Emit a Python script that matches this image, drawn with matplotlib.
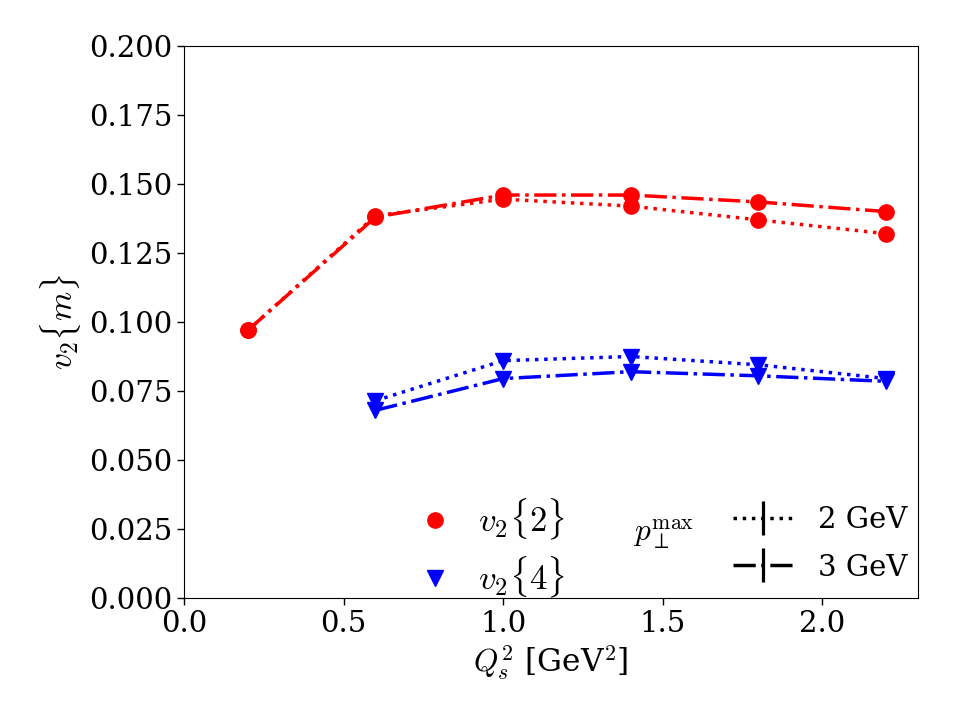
import matplotlib
matplotlib.use("Agg")
import matplotlib.pyplot as plt
from matplotlib.lines import Line2D

plt.rcParams['font.family'] = ['DejaVu Serif']
plt.rcParams['mathtext.fontset'] = 'cm'
plt.rcParams['font.size'] = 21

qs2 = [0.2, 0.6, 1.0, 1.4, 1.8, 2.2]
v22_2gev = [0.097, 0.1385, 0.1445, 0.142, 0.137, 0.132]
v22_3gev = [0.097, 0.138, 0.146, 0.146, 0.1435, 0.140]
qs2_v4 = [0.6, 1.0, 1.4, 1.8, 2.2]
v24_2gev = [0.0715, 0.086, 0.0875, 0.0845, 0.0795]
v24_3gev = [0.068, 0.0795, 0.082, 0.0805, 0.0785]

fig = plt.figure(figsize=(9.6, 7.2), dpi=100)
ax = fig.add_axes([184/960, 1-598/720, (918-184)/960, (598-46)/720])

lw = 2.5
ms = 11
ax.plot(qs2, v22_2gev, ':', color='red', marker='o', lw=lw, ms=ms)
ax.plot(qs2, v22_3gev, '-.', color='red', marker='o', lw=lw, ms=ms)
ax.plot(qs2_v4, v24_2gev, ':', color='blue', marker='v', lw=lw, ms=ms)
ax.plot(qs2_v4, v24_3gev, '-.', color='blue', marker='v', lw=lw, ms=ms)

ax.set_xlim(0, 2.3)
ax.set_ylim(0, 0.2)
ax.set_yticks([0, 0.025, 0.05, 0.075, 0.1, 0.125, 0.15, 0.175, 0.2])
ax.set_yticklabels(['0.000', '0.025', '0.050', '0.075', '0.100', '0.125', '0.150', '0.175', '0.200'])
ax.set_xticks([0, 0.5, 1.0, 1.5, 2.0])
ax.tick_params(length=5, width=1.0)
ax.set_xlabel(r'$Q_s^2$ [GeV$^2$]', fontsize=22.5)
ax.set_ylabel(r'$v_2\{m\}$', fontsize=24)

h1 = [Line2D([], [], ls='none', marker='o', color='red', ms=ms),
      Line2D([], [], ls='none', marker='v', color='blue', ms=ms)]
leg1 = ax.legend(h1, [r'$v_2\{2\}$', r'$v_2\{4\}$'], frameon=False,
                 loc='lower left', bbox_to_anchor=(0.2757, -0.06),
                 labelspacing=0.35, handlelength=1.0, handletextpad=0.74,
                 fontsize=25)
ax.add_artist(leg1)

h2 = [Line2D([], [], ls=':', color='black', lw=lw, marker='|', ms=24, mew=2.3),
      Line2D([], [], ls='-.', color='black', lw=lw, marker='|', ms=24, mew=2.3)]
ax.legend(h2, ['2 GeV', '3 GeV'], frameon=False, loc='lower right',
          bbox_to_anchor=(1.021, -0.018), labelspacing=0.68, handlelength=2.07,
          handletextpad=0.84, fontsize=21)

ax.text(0.612, 0.102, r'$p_\perp^{\max}$', transform=ax.transAxes, fontsize=22.5)

fig.savefig('out.png', dpi=100)
